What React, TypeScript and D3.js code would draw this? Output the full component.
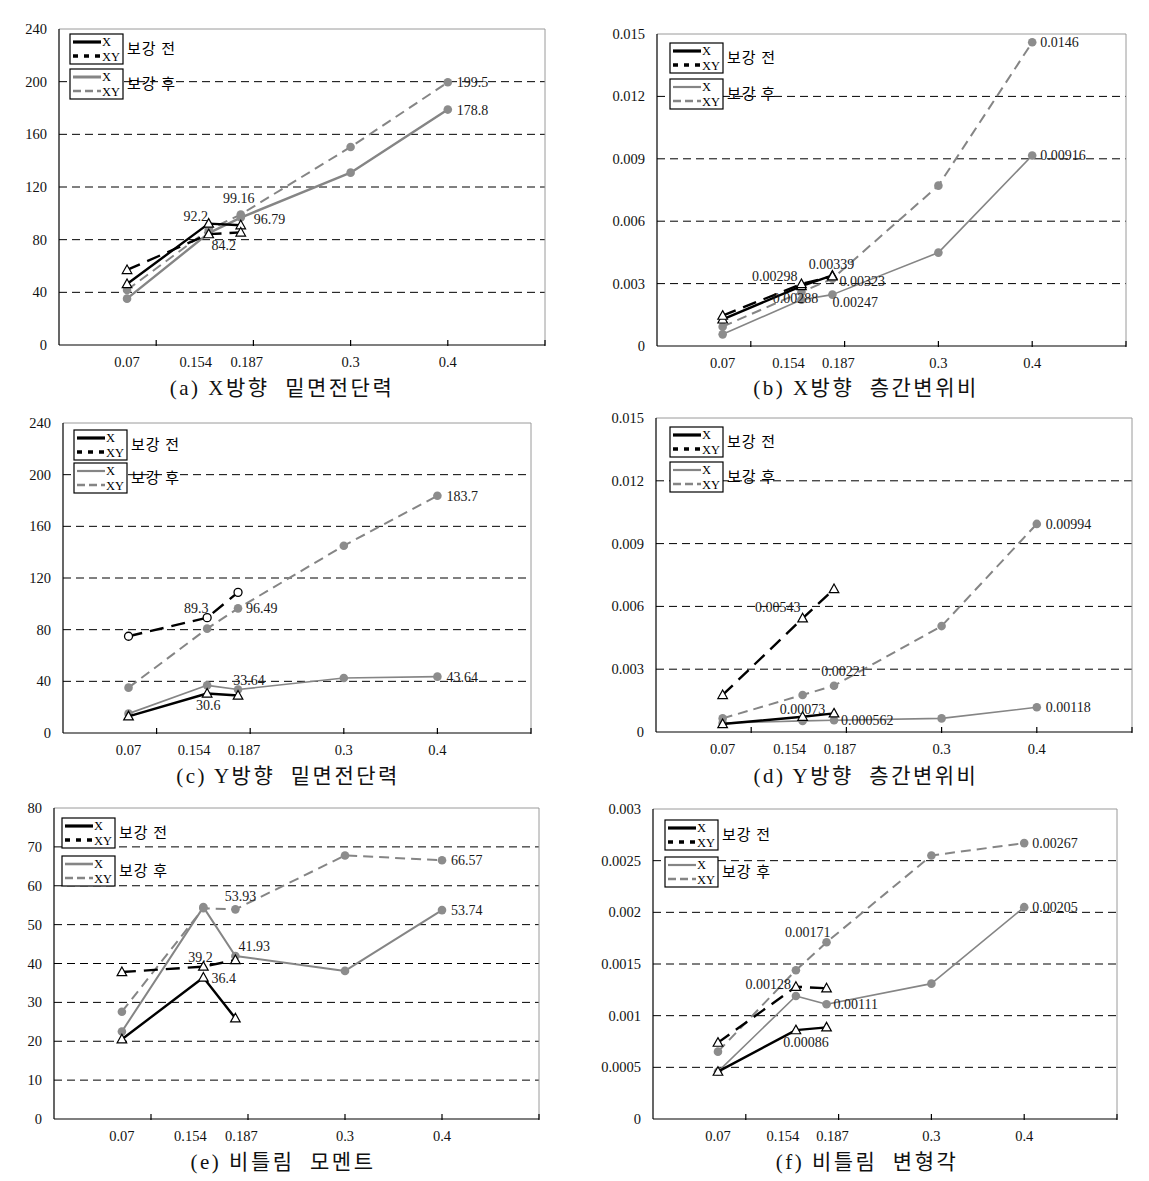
import React from 'react';
import * as d3 from 'd3';

// ---------- data ----------
const xValues = [0.07, 0.154, 0.187, 0.3, 0.4];
const xTickLabels = ['0.07', '0.154', '0.187', '0.3', '0.4'];
const seriesNames = ['X', 'XY'];
const groupNames = ['보강 전', '보강 후'];
const titles = [
  '(a) X방향  밑면전단력',
  '(b) X방향  층간변위비',
  '(c) Y방향  밑면전단력',
  '(d) Y방향  층간변위비',
  '(e) 비틀림  모멘트',
  '(f) 비틀림  변형각',
];

// (a) X-direction base shear
const aBeforeX = [46.3, 92.2, 91.0];
const aBeforeXY = [57.0, 84.2, 85.5];
const aAfterX = [35.2, 85.0, 96.79, 130.9, 178.8];
const aAfterXY = [41.8, 87.5, 99.16, 150.4, 199.5];
// (b) X-direction drift ratio
const bBeforeX = [0.00128, 0.00288, 0.00339];
const bBeforeXY = [0.00146, 0.00298, 0.00335];
const bAfterX = [0.00056, 0.00222, 0.00247, 0.00449, 0.00916];
const bAfterXY = [0.00093, 0.0026, 0.00323, 0.00771, 0.0146];
// (c) Y-direction base shear
const cBeforeX = [12.9, 30.6, 29.0];
const cBeforeXY = [74.9, 89.3, 108.9];
const cAfterX = [15.0, 36.9, 33.64, 42.6, 43.64];
const cAfterXY = [35.1, 80.8, 96.49, 145.0, 183.7];
// (d) Y-direction drift ratio
const dBeforeX = [0.00038, 0.00073, 0.00089];
const dBeforeXY = [0.00177, 0.00543, 0.00683];
const dAfterX = [0.00043, 0.00053, 0.000562, 0.00065, 0.00118];
const dAfterXY = [0.00065, 0.00177, 0.00221, 0.00506, 0.00994];
// (e) torsional moment
const eBeforeX = [20.5, 36.4, 25.9];
const eBeforeXY = [37.8, 39.2, 40.9];
const eAfterX = [22.5, 54.5, 41.93, 38.1, 53.74];
const eAfterXY = [27.6, 54.2, 53.93, 67.8, 66.57];
// (f) torsional deformation angle
const fBeforeX = [0.000458, 0.00086, 0.000887];
const fBeforeXY = [0.000739, 0.00128, 0.001265];
const fAfterX = [0.000458, 0.00119, 0.00111, 0.00131, 0.00205];
const fAfterXY = [0.000652, 0.00144, 0.00171, 0.00255, 0.00267];

const yTicksShear = [0, 40, 80, 120, 160, 200, 240];
const yTicksDrift = [0, 0.003, 0.006, 0.009, 0.012, 0.015];
const yTicksMoment = [0, 10, 20, 30, 40, 50, 60, 70, 80];
const yTicksAngle = [0, 0.0005, 0.001, 0.0015, 0.002, 0.0025, 0.003];

// ---------- layout ----------
type Lab = [number, number, number, number, string];
interface PanelCfg {
  title: string;
  left: number; right: number; top: number; bottom: number;
  yTicks: number[];
  series: number[][];
  legendX: number; legendY: number; legendGap: number;
  titleX: number; titleY: number;
  grayWidth: number;
  xyCircle: boolean;
  labels: Lab[];
}

const panels: PanelCfg[] = [
  {
    title: titles[0], left: 59, right: 545, top: 29, bottom: 345, yTicks: yTicksShear,
    series: [aBeforeX, aBeforeXY, aAfterX, aAfterXY],
    legendX: 70, legendY: 34, legendGap: 35, titleX: 282, titleY: 395, grayWidth: 2.4, xyCircle: false,
    labels: [[0, 1, -13, -3, 'middle'], [1, 1, 15, 16, 'middle'], [3, 2, -2, -11, 'middle'], [2, 2, 13, 6, 'start'], [3, 4, 9, 5, 'start'], [2, 4, 9, 5, 'start']],
  },
  {
    title: titles[1], left: 657, right: 1126, top: 34, bottom: 346, yTicks: yTicksDrift,
    series: [bBeforeX, bBeforeXY, bAfterX, bAfterXY],
    legendX: 670, legendY: 43, legendGap: 36, titleX: 866, titleY: 395, grayWidth: 1.6, xyCircle: false,
    labels: [[1, 1, -4, -3, 'end'], [0, 1, -6, 17, 'middle'], [0, 2, -1, -6, 'middle'], [3, 2, 7, 7, 'start'], [2, 2, 0, 12, 'start'], [3, 4, 8, 5, 'start'], [2, 4, 8, 5, 'start']],
  },
  {
    title: titles[2], left: 63, right: 531, top: 423, bottom: 733, yTicks: yTicksShear,
    series: [cBeforeX, cBeforeXY, cAfterX, cAfterXY],
    legendX: 74, legendY: 430, legendGap: 33, titleX: 288, titleY: 783, grayWidth: 1.6, xyCircle: true,
    labels: [[1, 1, -11, -5, 'middle'], [3, 2, 8, 5, 'start'], [3, 4, 9, 5, 'start'], [2, 2, 11, -5, 'middle'], [2, 4, 9, 5, 'start'], [0, 1, 1, 17, 'middle']],
  },
  {
    title: titles[3], left: 656, right: 1132, top: 418, bottom: 732, yTicks: yTicksDrift,
    series: [dBeforeX, dBeforeXY, dAfterX, dAfterXY],
    legendX: 670, legendY: 427, legendGap: 35, titleX: 866, titleY: 783, grayWidth: 1.6, xyCircle: false,
    labels: [[1, 1, -2, -6, 'end'], [3, 2, 10, -10, 'middle'], [0, 1, 0, -3, 'middle'], [2, 2, 7, 5, 'start'], [3, 4, 9, 5, 'start'], [2, 4, 9, 5, 'start']],
  },
  {
    title: titles[4], left: 54, right: 539, top: 808, bottom: 1119, yTicks: yTicksMoment,
    series: [eBeforeX, eBeforeXY, eAfterX, eAfterXY],
    legendX: 62, legendY: 818, legendGap: 38, titleX: 283, titleY: 1169, grayWidth: 2, xyCircle: false,
    labels: [[3, 2, 5, -8, 'middle'], [2, 2, 3, -5, 'start'], [1, 1, -3, -5, 'middle'], [0, 1, 8, 6, 'start'], [3, 4, 9, 5, 'start'], [2, 4, 9, 5, 'start']],
  },
  {
    title: titles[5], left: 653, right: 1117, top: 809, bottom: 1119, yTicks: yTicksAngle,
    series: [fBeforeX, fBeforeXY, fAfterX, fAfterXY],
    legendX: 665, legendY: 820, legendGap: 37, titleX: 867, titleY: 1169, grayWidth: 1.6, xyCircle: false,
    labels: [[3, 2, 4, -5, 'end'], [1, 1, -5, 2, 'end'], [2, 2, 7, 5, 'start'], [0, 1, 10, 17, 'middle'], [3, 4, 8, 5, 'start'], [2, 4, 8, 5, 'start']],
  },
];

const xLabelShift = [0, -13, 6, 0, 0];
const fontSerif = "'Liberation Serif','Times New Roman',serif";
const fontKo = "'Liberation Serif','Noto Sans CJK KR',serif";
const GRAY = '#858585';
const GRAY_DOT = '#8c8c8c';

const tri = (cx: number, cy: number) =>
  `M${cx},${cy - 5} L${cx + 4.8},${cy + 3.6} L${cx - 4.8},${cy + 3.6} Z`;

function Panel({ p }: { p: PanelCfg }) {
  const yMax = p.yTicks[p.yTicks.length - 1];
  const x = d3.scaleLinear().domain([0, 0.5]).range([p.left, p.right]);
  const y = d3.scaleLinear().domain([0, yMax]).range([p.bottom, p.top]);
  const line = d3.line<number>().x((_, i) => x(xValues[i])).y((v) => y(v));
  const xTickMarks = [0.1, 0.2, 0.3, 0.4, 0.5];

  const styles = [
    { stroke: '#000', width: 2.4, dash: undefined as string | undefined },
    { stroke: '#000', width: 2.4, dash: '14,8' },
    { stroke: GRAY, width: p.grayWidth, dash: undefined },
    { stroke: GRAY, width: 2, dash: '10,6' },
  ];
  const order = [2, 3, 0, 1];

  const legendBox = (gi: number) => {
    const bx = p.legendX;
    const by = p.legendY + gi * p.legendGap;
    const w = 53, h = 30;
    const s0 = gi === 0 ? { stroke: '#000', width: 3.2, dash: undefined as string | undefined } : { stroke: GRAY, width: p.grayWidth + 0.6, dash: undefined };
    const s1 = gi === 0 ? { stroke: '#000', width: 3.5, dash: '5,6' } : { stroke: GRAY, width: 2.4, dash: '8,4' };
    return (
      <g key={gi}>
        <rect x={bx} y={by} width={w} height={h} fill="#fff" stroke="#000" strokeWidth={1.2} />
        <line x1={bx + 3} x2={bx + 31} y1={by + 8} y2={by + 8} stroke={s0.stroke} strokeWidth={s0.width} strokeDasharray={s0.dash} />
        <line x1={bx + 3} x2={bx + 31} y1={by + 22} y2={by + 22} stroke={s1.stroke} strokeWidth={s1.width} strokeDasharray={s1.dash} />
        <text x={bx + 32} y={by + 12} fontSize={12.5} fontFamily={fontSerif}>{seriesNames[0]}</text>
        <text x={bx + 32} y={by + 26.5} fontSize={12.5} fontFamily={fontSerif}>{seriesNames[1]}</text>
        <text x={bx + w + 4} y={by + h / 2 + 5} fontSize={15} fontFamily={fontKo} letterSpacing={1}>{groupNames[gi]}</text>
      </g>
    );
  };

  return (
    <g>
      {/* gridlines */}
      {p.yTicks.slice(1, -1).map((t) => (
        <line key={t} x1={p.left} x2={p.right} y1={y(t)} y2={y(t)} stroke="#000" strokeWidth={1} strokeDasharray="8,5" />
      ))}
      {/* frame */}
      <line x1={p.left} x2={p.right} y1={p.top} y2={p.top} stroke="#9a9a9a" strokeWidth={1} />
      <line x1={p.right} x2={p.right} y1={p.top} y2={p.bottom} stroke="#9a9a9a" strokeWidth={1} />
      <line x1={p.left} x2={p.left} y1={p.top} y2={p.bottom} stroke="#000" strokeWidth={1.2} />
      <line x1={p.left} x2={p.right} y1={p.bottom} y2={p.bottom} stroke="#000" strokeWidth={1.2} />
      {xTickMarks.map((t) => (
        <line key={t} x1={x(t)} x2={x(t)} y1={p.bottom - 5} y2={p.bottom + 1} stroke="#000" strokeWidth={1.2} />
      ))}
      {/* y tick labels */}
      {p.yTicks.map((t) => (
        <text key={t} x={p.left - 12} y={y(t) + 5} textAnchor="end" fontSize={14.5} fontFamily={fontSerif} fill="#111">
          {String(t)}
        </text>
      ))}
      {/* x tick labels */}
      {xValues.map((v, i) => (
        <text key={v} x={x(v) + xLabelShift[i]} y={p.bottom + 22} textAnchor="middle" fontSize={14.5} fontFamily={fontSerif} fill="#111">
          {xTickLabels[i]}
        </text>
      ))}
      {/* series */}
      {order.map((si) => {
        const vals = p.series[si];
        const st = styles[si];
        return (
          <g key={si}>
            <path d={line(vals) || ''} fill="none" stroke={st.stroke} strokeWidth={st.width} strokeDasharray={st.dash} strokeLinejoin="round" />
            {vals.map((v, i) => {
              const cx = x(xValues[i]);
              const cy = y(v);
              if (si >= 2) return <circle key={i} cx={cx} cy={cy} r={4.3} fill={GRAY_DOT} />;
              if (si === 1 && p.xyCircle)
                return <circle key={i} cx={cx} cy={cy} r={4} fill="#fff" stroke="#000" strokeWidth={1.3} />;
              return <path key={i} d={tri(cx, cy)} fill="#fff" stroke="#000" strokeWidth={1.2} />;
            })}
          </g>
        );
      })}
      {/* data labels */}
      {p.labels.map(([si, pi, dx, dy, anchor], k) => {
        const v = p.series[si][pi];
        return (
          <text key={k} x={x(xValues[pi]) + dx} y={y(v) + dy} textAnchor={anchor as any} fontSize={14} fontFamily={fontSerif} fill="#1a1a1a">
            {String(v)}
          </text>
        );
      })}
      {/* legend */}
      {legendBox(0)}
      {legendBox(1)}
      {/* title */}
      <text x={p.titleX} y={p.titleY} textAnchor="middle" fontSize={21} fontFamily={fontKo} letterSpacing={2.5} style={{ whiteSpace: 'pre' }} fill="#111">
        {p.title}
      </text>
    </g>
  );
}

export default function App() {
  return (
    <svg width={1149} height={1181} style={{ position: 'absolute', left: 0, top: 0, background: '#fff' }} xmlSpace="preserve">
      <rect x={0} y={0} width={1149} height={1181} fill="#fff" />
      {panels.map((p, i) => (
        <Panel key={i} p={p} />
      ))}
    </svg>
  );
}
